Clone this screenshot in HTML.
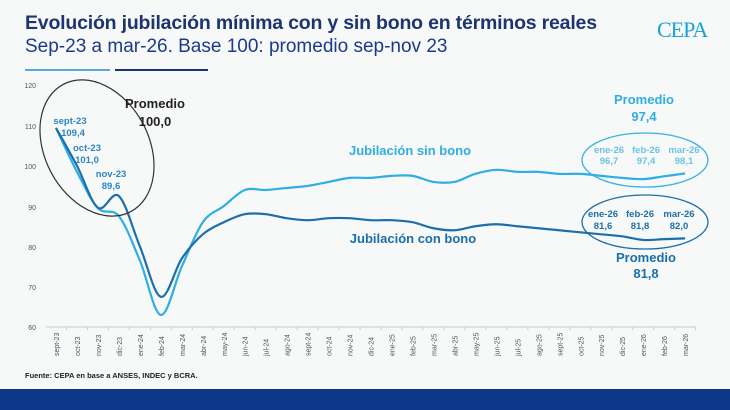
<!DOCTYPE html>
<html><head><meta charset="utf-8"><style>
body{margin:0;width:730px;height:410px;background:#f7f8f8;overflow:hidden;font-family:"Liberation Sans",Arial,sans-serif;position:relative}
.t1{position:absolute;left:25px;top:12px;font-size:19.5px;font-weight:bold;color:#1d3470;letter-spacing:-0.2px}
.t2{position:absolute;left:25px;top:36px;font-size:19px;color:#1d3a8a}
.logo{position:absolute;left:657px;top:17px;font-family:"Liberation Serif",serif;font-size:22px;color:#1aa3d9;letter-spacing:-1px}
.bar{position:absolute;top:389px;left:0;width:730px;height:21px;background:#0d3889}
.src{position:absolute;left:25px;top:371px;font-size:7.5px;font-weight:bold;color:#222}
</style></head><body>
<div class="t1">Evolución jubilación mínima con y sin bono en términos reales</div>
<div class="t2">Sep-23 a mar-26. Base 100: promedio sep-nov 23</div>
<div class="logo">CEPA</div>
<svg width="730" height="410" style="position:absolute;left:0;top:0" id="s">
<line x1="25" y1="70" x2="110" y2="70" stroke="#5aa7dc" stroke-width="2"/>
<line x1="115" y1="70" x2="208" y2="70" stroke="#1d3470" stroke-width="2"/>
<g font-size="7" fill="#555" text-anchor="end">
<text x="36" y="88">120</text><text x="36" y="129">110</text><text x="36" y="169">100</text><text x="36" y="210">90</text><text x="36" y="250">80</text><text x="36" y="290">70</text><text x="36" y="330">60</text></g>
<line x1="46" y1="327" x2="696" y2="327" stroke="#ccc"/>
<g id="ticks"></g>
<path id="pl" fill="none" stroke="#2eaee3" stroke-width="2.2"/>
<path id="pd" fill="none" stroke="#1c6fab" stroke-width="2.2"/>
<ellipse cx="97" cy="148" rx="52" ry="72" transform="rotate(-28 97 148)" fill="none" stroke="#333" stroke-width="1.2"/>
<ellipse cx="645" cy="160" rx="63" ry="27" fill="none" stroke="#3ab1e3" stroke-width="1.3"/>
<ellipse cx="645" cy="222" rx="63" ry="27" fill="none" stroke="#1c6fab" stroke-width="1.3"/>
<g font-weight="bold" text-anchor="middle">
<text x="155" y="108" font-size="13" fill="#222">Promedio</text>
<text x="155" y="126" font-size="13" fill="#222">100,0</text>
<g font-size="9.5" fill="#2c86c6"><text x="70" y="124">sept-23</text><text x="73" y="136">109,4</text>
<text x="87" y="151">oct-23</text><text x="87" y="163">101,0</text>
<text x="111" y="177">nov-23</text><text x="111" y="189">89,6</text></g>
<text x="410" y="155" font-size="13" fill="#2eaee3">Jubilación sin bono</text>
<text x="413" y="243" font-size="13" fill="#1c6fab">Jubilación con bono</text>
<text x="644" y="104" font-size="13" fill="#2eaee3">Promedio</text>
<text x="644" y="121" font-size="13" fill="#2eaee3">97,4</text>
<g font-size="9.5" fill="#6cc3ea"><text x="609" y="153">ene-26</text><text x="609" y="164">96,7</text><text x="646" y="153">feb-26</text><text x="646" y="164">97,4</text><text x="684" y="153">mar-26</text><text x="684" y="164">98,1</text></g>
<g font-size="9.5" fill="#1c6fab"><text x="603" y="217">ene-26</text><text x="603" y="229">81,6</text><text x="640" y="217">feb-26</text><text x="640" y="229">81,8</text><text x="679" y="217">mar-26</text><text x="679" y="229">82,0</text></g>
<text x="646" y="262" font-size="13" fill="#1c6fab">Promedio</text>
<text x="646" y="278" font-size="13" fill="#1c6fab">81,8</text>
</g>
</svg>
<div class="src">Fuente: CEPA en base a ANSES, INDEC y BCRA.</div>
<div class="bar"></div>
<script>
var labs="sept-23 oct-23 nov-23 dic-23 ene-24 feb-24 mar-24 abr-24 may-24 jun-24 jul-24 ago-24 sept-24 oct-24 nov-24 dic-24 ene-25 feb-25 mar-25 abr-25 may-25 jun-25 jul-25 ago-25 sept-25 oct-25 nov-25 dic-25 ene-26 feb-26 mar-26".split(" ");
var L=[109.4,98.5,89.5,87.5,76.5,63,75,86,90,94,94,94.5,95,96,97,97,97.5,97.5,96,96,98,99,98.5,98.5,98,98,97.5,97,96.7,97.4,98.1];
var D=[109.4,100,89.6,92.5,80,67.5,77,83,86,88,88,87,86.5,87,87,86.5,86.5,86,84.5,84,85,85.5,85,84.5,84,83.5,83,82.5,81.6,81.8,82];
function X(i){return 56+i*20.97}function Y(v){return 327-(v-60)*4.03}
var g="";labs.forEach(function(l,i){var x=X(i);g+='<line x1="'+(x+10.5)+'" y1="327" x2="'+(x+10.5)+'" y2="330" stroke="#ccc"/>';g+='<text transform="translate('+(x+3)+',356) rotate(-90)" font-size="7" fill="#555">'+l+'</text>';});
document.getElementById("ticks").innerHTML=g;
function path(a){var p=a.map(function(v,i){return[X(i),Y(v)]});var d="M"+p[0][0]+","+p[0][1];for(var i=0;i<p.length-1;i++){var p0=p[i-1]||p[i],p1=p[i],p2=p[i+1],p3=p[i+2]||p2;d+=" C"+(p1[0]+(p2[0]-p0[0])/6)+","+(p1[1]+(p2[1]-p0[1])/6)+" "+(p2[0]-(p3[0]-p1[0])/6)+","+(p2[1]-(p3[1]-p1[1])/6)+" "+p2[0]+","+p2[1];}return d;}
document.getElementById("pl").setAttribute("d",path(L));
document.getElementById("pd").setAttribute("d",path(D));
</script>
</body></html>
